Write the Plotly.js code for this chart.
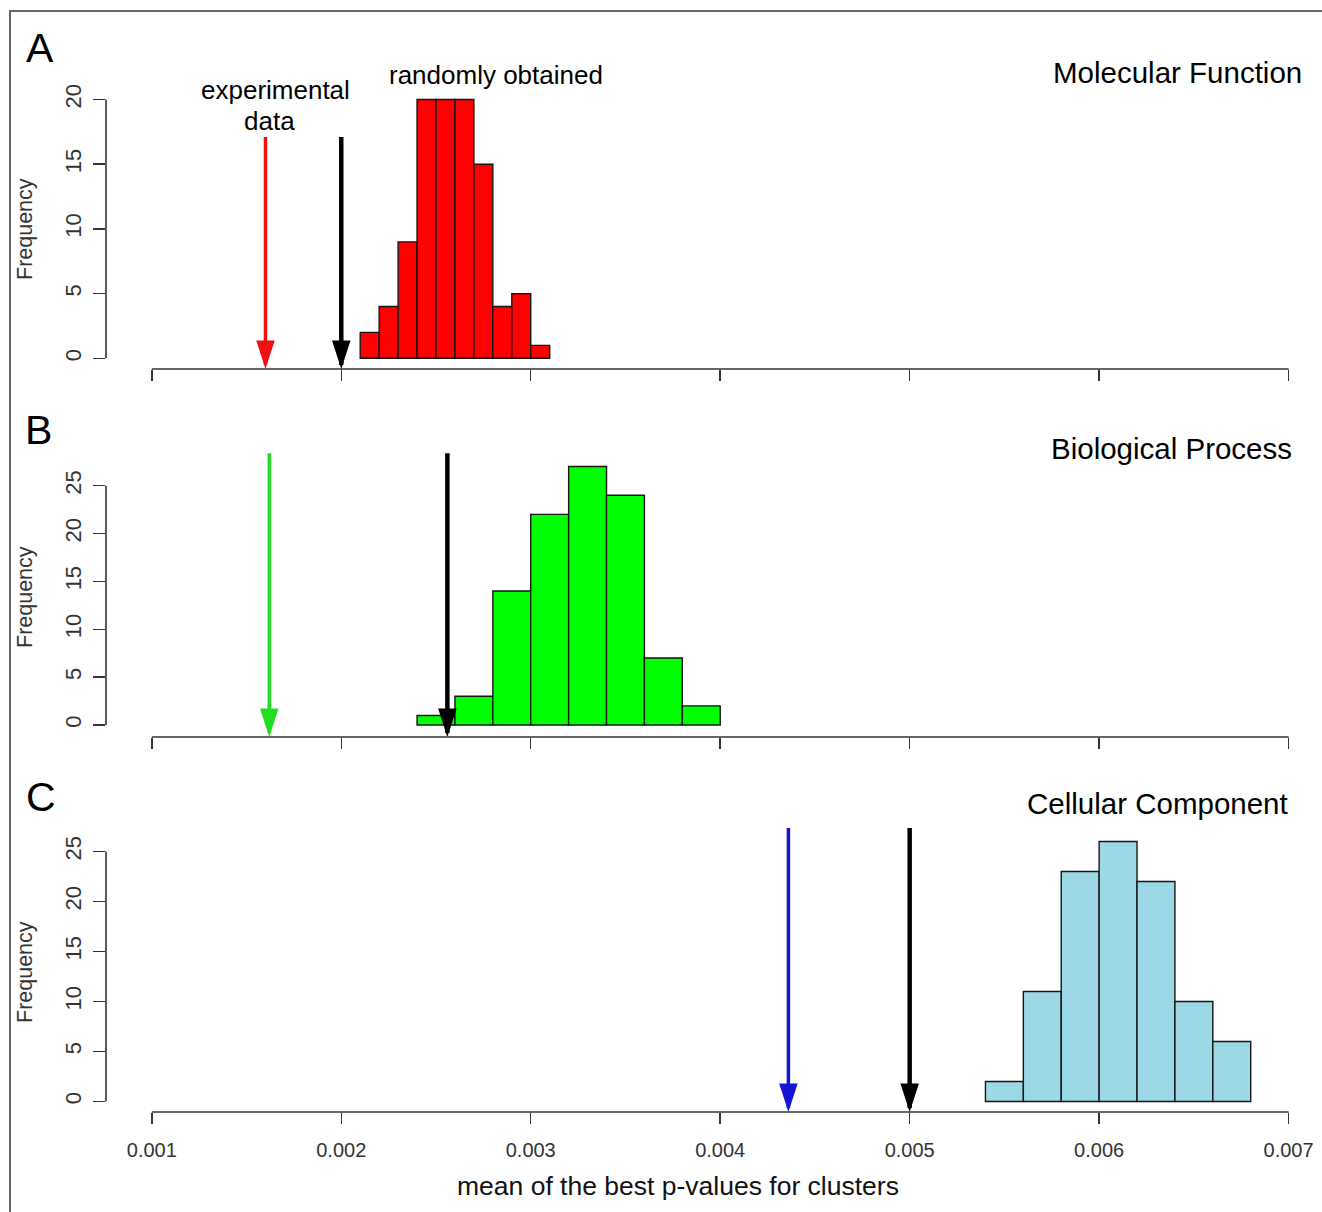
<!DOCTYPE html>
<html>
<head>
<meta charset="utf-8">
<script src="https://cdn.plot.ly/plotly-3.0.1.min.js"></script>
<style>html,body{margin:0;padding:0;background:#fff;}#chart{width:1322px;height:1212px;}</style>
</head>
<body>
<div id="chart"></div>
<script>
// ---------------- data ----------------
const xTickVals = [0.001, 0.002, 0.003, 0.004, 0.005, 0.006, 0.007];
const xTickText = ["0.001", "0.002", "0.003", "0.004", "0.005", "0.006", "0.007"];
const yTicksA = [0, 5, 10, 15, 20];
const yTicksBC = [0, 5, 10, 15, 20, 25];

const mfBins = [0.0021, 0.0022, 0.0023, 0.0024, 0.0025, 0.0026, 0.0027, 0.0028, 0.0029, 0.0030];
const mfCounts = [2, 4, 9, 20, 20, 20, 15, 4, 5, 1];
const mfBinWidth = 0.0001;

const bpBins = [0.0024, 0.0026, 0.0028, 0.0030, 0.0032, 0.0034, 0.0036, 0.0038];
const bpCounts = [1, 3, 14, 22, 27, 24, 7, 2];
const bpBinWidth = 0.0002;

const ccBins = [0.0054, 0.0056, 0.0058, 0.0060, 0.0062, 0.0064, 0.0066];
const ccCounts = [2, 11, 23, 26, 22, 10, 6];
const ccBinWidth = 0.0002;

// experimental value (coloured arrow) and black arrow value per panel
const mfArrows = [0.0016, 0.0020];
const bpArrows = [0.00162, 0.00256];
const ccArrows = [0.00436, 0.0050];

const panelTitles = ["Molecular Function", "Biological Process", "Cellular Component"];
const panelLetters = ["A", "B", "C"];

// ---------------- layout geometry (pixels) ----------------
const W = 1322, H = 1212;
const FONT = "Liberation Sans, Arial, Helvetica, sans-serif";
const px = x => x / W;
const py = y => 1 - y / H;

const xPx0 = 151.8, xPx1 = 1288.6; // pixel of 0.001 and 0.007
const xPerPx = (0.007 - 0.001) / (xPx1 - xPx0);
const plotLeft = 106, plotRight = 1312;
const xRange = [0.001 - (xPx0 - plotLeft) * xPerPx, 0.007 + (plotRight - xPx1) * xPerPx];

// per panel: top px, bottom (axis line) px, px of y=0, px of top tick, top tick value, arrow top (data)
const panels = [
  {top: 90,  bottom: 369,  zeroPx: 358.3,  tickPx: 99.5,  tickVal: 20, arrowTop: 17.1},
  {top: 445, bottom: 737,  zeroPx: 725.0,  tickPx: 485.7, tickVal: 25, arrowTop: 28.4},
  {top: 815, bottom: 1112, zeroPx: 1101.5, tickPx: 851.5, tickVal: 25, arrowTop: 27.35}
];
panels.forEach(p => {
  const unit = (p.zeroPx - p.tickPx) / p.tickVal;
  p.yRange = [-(p.bottom - p.zeroPx) / unit, (p.zeroPx - p.top) / unit];
});

const series = [
  {bins: mfBins, counts: mfCounts, w: mfBinWidth, fill: "#ff0000", arrows: mfArrows, arrowColor: "#ee1111", yt: yTicksA},
  {bins: bpBins, counts: bpCounts, w: bpBinWidth, fill: "#00ff00", arrows: bpArrows, arrowColor: "#22dd22", yt: yTicksBC},
  {bins: ccBins, counts: ccCounts, w: ccBinWidth, fill: "#9dd8e7", arrows: ccArrows, arrowColor: "#1515d6", yt: yTicksBC}
];

const traces = [];
const layout = {
  width: W, height: H,
  margin: {l: 0, r: 0, t: 0, b: 0},
  paper_bgcolor: "#fff", plot_bgcolor: "rgba(0,0,0,0)",
  showlegend: false,
  font: {family: FONT, color: "#111"},
  shapes: [], annotations: []
};

series.forEach((s, i) => {
  const n = i === 0 ? "" : String(i + 1);
  const xa = "x" + n, ya = "y" + n;
  const p = panels[i];
  traces.push({
    type: "bar", x: s.bins, y: s.counts, width: s.w, offset: 0,
    xaxis: xa, yaxis: ya,
    marker: {color: s.fill, line: {color: "#151515", width: 1.4}},
    hoverinfo: "skip"
  });
  // arrows: coloured (experimental) then black
  s.arrows.forEach((v, k) => {
    const col = k === 0 ? s.arrowColor : "#000";
    traces.push({
      type: "scatter", mode: "lines", x: [v, v], y: [p.arrowTop, p.yRange[0] + 4 * (p.yRange[1]-p.yRange[0]) / (p.bottom - p.top)],
      xaxis: xa, yaxis: ya, cliponaxis: false,
      line: {color: col, width: k === 0 ? 3.5 : 4.5}, hoverinfo: "skip"
    });
    traces.push({
      type: "scatter", mode: "markers", x: [v], y: [p.yRange[0]],
      xaxis: xa, yaxis: ya, cliponaxis: false,
      marker: {symbol: "arrow", angle: 180, size: 30, color: col, line: {width: 0}},
      hoverinfo: "skip"
    });
  });

  layout["xaxis" + n] = {
    domain: [px(plotLeft), px(plotRight)], range: xRange, anchor: ya,
    showgrid: false, zeroline: false, showline: false,
    tickmode: "array", tickvals: xTickVals, ticktext: xTickText,
    ticks: "outside", ticklen: 11, tickwidth: 1.5, tickcolor: "#333",
    showticklabels: i === 2, ticklabelstandoff: 9,
    tickfont: {family: FONT, size: 20, color: "#333"},
    fixedrange: true
  };
  layout["yaxis" + n] = {
    domain: [py(p.bottom), py(p.top)], range: p.yRange, anchor: xa,
    showgrid: false, zeroline: false, showline: false,
    tickmode: "array", tickvals: s.yt, ticktext: s.yt.map(String),
    ticks: "outside", ticklen: 12, tickwidth: 1.5, tickcolor: "#333",
    tickangle: -90, ticklabelstandoff: 3,
    tickfont: {family: FONT, size: 22, color: "#333"},
    fixedrange: true
  };
  // R style axis lines
  layout.shapes.push({type: "line", xref: xa, yref: ya + " domain",
    x0: xTickVals[0], x1: xTickVals[xTickVals.length - 1], y0: 0, y1: 0,
    line: {color: "#333", width: 1.6}});
  layout.shapes.push({type: "line", xref: xa + " domain", yref: ya,
    x0: 0, x1: 0, y0: s.yt[0], y1: s.yt[s.yt.length - 1],
    line: {color: "#333", width: 1.6}});
});

// text
const letterPos = [[40, 48], [38, 430], [41, 797]];
const titlePos = [[1177, 72], [1171, 449], [1157, 803]];
const freqPos = [229, 597, 972];
for (let i = 0; i < 3; i++) {
  layout.annotations.push({xref: "paper", yref: "paper", x: px(letterPos[i][0]), y: py(letterPos[i][1]),
    text: panelLetters[i], showarrow: false, xanchor: "center", yanchor: "middle",
    font: {family: FONT, size: 41, color: "#000"}});
  layout.annotations.push({xref: "paper", yref: "paper", x: px(titlePos[i][0]), y: py(titlePos[i][1]),
    text: panelTitles[i], showarrow: false, xanchor: "center", yanchor: "middle",
    font: {family: FONT, size: 29.5, color: "#000"}});
  layout.annotations.push({xref: "paper", yref: "paper", x: px(25), y: py(freqPos[i]),
    text: "Frequency", showarrow: false, textangle: -90, xanchor: "center", yanchor: "middle",
    font: {family: FONT, size: 21.5, color: "#333"}});
}
layout.annotations.push({xref: "paper", yref: "paper", x: px(275), y: py(90),
  text: "experimental", showarrow: false, xanchor: "center", yanchor: "middle",
  font: {family: FONT, size: 26, color: "#000"}});
layout.annotations.push({xref: "paper", yref: "paper", x: px(269), y: py(121),
  text: "data", showarrow: false, xanchor: "center", yanchor: "middle",
  font: {family: FONT, size: 26, color: "#000"}});
layout.annotations.push({xref: "paper", yref: "paper", x: px(496), y: py(75),
  text: "randomly obtained", showarrow: false, xanchor: "center", yanchor: "middle",
  font: {family: FONT, size: 26, color: "#000"}});
layout.annotations.push({xref: "paper", yref: "paper", x: px(678), y: py(1186),
  text: "mean of the best p-values for clusters", showarrow: false, xanchor: "center", yanchor: "middle",
  font: {family: FONT, size: 26.5, color: "#111"}});

// figure border
layout.shapes.push({type: "rect", xref: "paper", yref: "paper",
  x0: px(10), x1: px(1340), y0: py(11), y1: py(1240),
  line: {color: "#666", width: 2}, fillcolor: "rgba(0,0,0,0)", layer: "below"});

Plotly.newPlot("chart", traces, layout, {staticPlot: true, displayModeBar: false});
</script>
</body>
</html>
